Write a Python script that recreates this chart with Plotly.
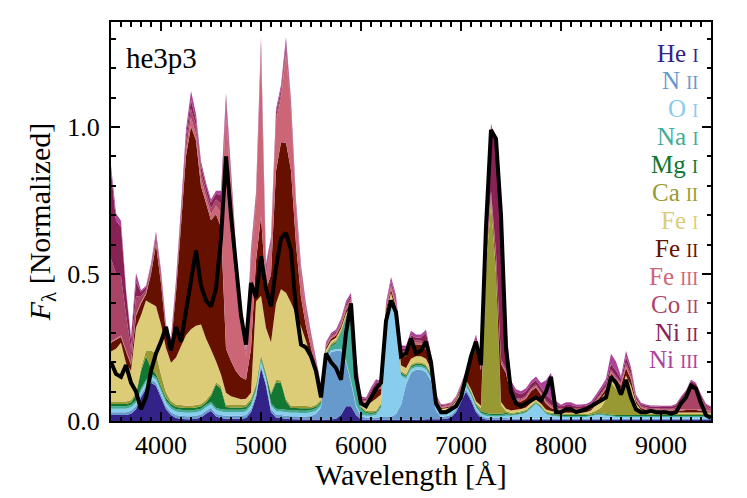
import plotly.graph_objects as go

# wavelength grid [Angstrom], 3500 .. 9500 every 50
wavelength = list(range(3500, 9501, 50))

# per-ion contributions to the model spectrum (stacked, bottom to top)
he1 = [0.02, 0.02, 0.02, 0.02, 0.025, 0.04, 0.08, 0.11, 0.13, 0.12,
       0.08, 0.04, 0.02, 0.01, 0.008, 0.006, 0.006, 0.008, 0.012, 0.025,
       0.035, 0.015, 0.01, 0.008, 0.008, 0.008, 0.008, 0.01, 0.03, 0.08,
       0.18, 0.12, 0.03, 0.012, 0.01, 0.008, 0.006, 0.006, 0.005, 0.005,
       0.005, 0.005, 0.005, 0.005, 0.005, 0.008, 0.02, 0.05, 0.05, 0.02,
       0.005, 0.004, 0.004, 0.004, 0.004, 0.004, 0.004, 0.004, 0.004, 0.004,
       0.004, 0.004, 0.004, 0.006, 0.006, 0.006, 0.006, 0.008, 0.012, 0.03,
       0.065, 0.10, 0.07, 0.03, 0.01, 0.005, 0.004, 0.004, 0.004, 0.004,
       0.003, 0.003, 0.003, 0.003, 0.003, 0.003, 0.003, 0.003, 0.003, 0.003,
       0.003, 0.003, 0.003, 0.003, 0.003, 0.003, 0.003, 0.003, 0.003, 0.003,
       0.003, 0.003, 0.003, 0.003, 0.003, 0.003, 0.003, 0.003, 0.003, 0.003,
       0.003, 0.003, 0.003, 0.003, 0.003, 0.003, 0.003, 0.003, 0.003, 0.003,
       0.003]
n2 = [0.01, 0.01, 0.01, 0.01, 0.01, 0.01, 0.01, 0.01, 0.01, 0.01,
      0.01, 0.01, 0.01, 0.01, 0.01, 0.01, 0.01, 0.01, 0.01, 0.01,
      0.01, 0.01, 0.01, 0.01, 0.01, 0.01, 0.01, 0.01, 0.01, 0.01,
      0.01, 0.01, 0.01, 0.01, 0.01, 0.01, 0.01, 0.01, 0.01, 0.01,
      0.012, 0.02, 0.04, 0.20, 0.23, 0.23, 0.22, 0.15, 0.08, 0.03,
      0.01, 0.008, 0.008, 0.008, 0.01, 0.01, 0.01, 0.02, 0.05, 0.12,
      0.16, 0.17, 0.17, 0.16, 0.13, 0.03, 0.008, 0.008, 0.008, 0.008,
      0.008, 0.008, 0.008, 0.008, 0.008, 0.006, 0.006, 0.006, 0.006, 0.006,
      0.005, 0.005, 0.005, 0.005, 0.005, 0.005, 0.005, 0.005, 0.005, 0.005,
      0.005, 0.005, 0.005, 0.005, 0.005, 0.005, 0.005, 0.005, 0.005, 0.005,
      0.005, 0.005, 0.005, 0.005, 0.005, 0.005, 0.005, 0.005, 0.005, 0.005,
      0.005, 0.005, 0.005, 0.005, 0.005, 0.005, 0.005, 0.005, 0.005, 0.005,
      0.005]
o1 = [0.012, 0.012, 0.012, 0.012, 0.012, 0.012, 0.012, 0.012, 0.012, 0.012,
      0.012, 0.012, 0.012, 0.012, 0.012, 0.012, 0.012, 0.012, 0.012, 0.012,
      0.012, 0.012, 0.012, 0.012, 0.012, 0.012, 0.012, 0.012, 0.012, 0.012,
      0.012, 0.012, 0.012, 0.012, 0.012, 0.012, 0.012, 0.012, 0.012, 0.012,
      0.012, 0.01, 0.008, 0.006, 0.006, 0.006, 0.006, 0.006, 0.006, 0.006,
      0.006, 0.006, 0.006, 0.008, 0.03, 0.33, 0.39, 0.32, 0.10, 0.02,
      0.012, 0.01, 0.01, 0.01, 0.01, 0.008, 0.008, 0.008, 0.008, 0.01,
      0.012, 0.012, 0.01, 0.008, 0.006, 0.006, 0.005, 0.005, 0.005, 0.008,
      0.01, 0.012, 0.015, 0.02, 0.035, 0.05, 0.035, 0.015, 0.01, 0.008,
      0.006, 0.006, 0.006, 0.006, 0.006, 0.006, 0.008, 0.012, 0.012, 0.01,
      0.008, 0.006, 0.006, 0.006, 0.006, 0.006, 0.006, 0.006, 0.006, 0.006,
      0.006, 0.006, 0.006, 0.006, 0.006, 0.006, 0.006, 0.006, 0.006, 0.006,
      0.006]
na1 = [0.008, 0.008, 0.008, 0.008, 0.008, 0.008, 0.008, 0.008, 0.008, 0.008,
       0.008, 0.008, 0.008, 0.008, 0.008, 0.008, 0.008, 0.008, 0.008, 0.008,
       0.008, 0.008, 0.008, 0.008, 0.008, 0.008, 0.008, 0.008, 0.008, 0.008,
       0.008, 0.008, 0.008, 0.008, 0.008, 0.008, 0.008, 0.008, 0.008, 0.008,
       0.008, 0.008, 0.008, 0.01, 0.012, 0.02, 0.05, 0.14, 0.24, 0.12,
       0.02, 0.008, 0.006, 0.006, 0.006, 0.006, 0.006, 0.006, 0.006, 0.006,
       0.006, 0.006, 0.006, 0.006, 0.006, 0.005, 0.005, 0.005, 0.005, 0.005,
       0.005, 0.005, 0.005, 0.005, 0.005, 0.005, 0.005, 0.005, 0.005, 0.005,
       0.003, 0.003, 0.003, 0.003, 0.003, 0.003, 0.003, 0.003, 0.003, 0.003,
       0.003, 0.003, 0.003, 0.003, 0.003, 0.003, 0.003, 0.003, 0.003, 0.003,
       0.003, 0.003, 0.003, 0.003, 0.003, 0.003, 0.003, 0.003, 0.003, 0.003,
       0.003, 0.003, 0.003, 0.003, 0.003, 0.003, 0.003, 0.003, 0.003, 0.003,
       0.003]
mg1 = [0.008, 0.008, 0.008, 0.008, 0.008, 0.02, 0.06, 0.08, 0.02, 0.01,
       0.008, 0.008, 0.008, 0.008, 0.008, 0.008, 0.008, 0.008, 0.008, 0.008,
       0.02, 0.08, 0.07, 0.01, 0.008, 0.008, 0.008, 0.008, 0.008, 0.008,
       0.008, 0.008, 0.03, 0.09, 0.09, 0.03, 0.008, 0.008, 0.008, 0.008,
       0.006, 0.006, 0.005, 0.005, 0.005, 0.005, 0.005, 0.006, 0.006, 0.005,
       0.005, 0.005, 0.005, 0.005, 0.005, 0.005, 0.005, 0.005, 0.005, 0.005,
       0.005, 0.005, 0.005, 0.005, 0.005, 0.005, 0.005, 0.005, 0.005, 0.005,
       0.005, 0.005, 0.005, 0.005, 0.005, 0.005, 0.005, 0.005, 0.005, 0.005,
       0.003, 0.003, 0.003, 0.003, 0.003, 0.003, 0.003, 0.003, 0.003, 0.003,
       0.003, 0.003, 0.003, 0.003, 0.003, 0.003, 0.003, 0.003, 0.003, 0.003,
       0.003, 0.003, 0.003, 0.003, 0.003, 0.003, 0.003, 0.003, 0.003, 0.003,
       0.003, 0.003, 0.003, 0.003, 0.003, 0.003, 0.003, 0.003, 0.003, 0.003,
       0.003]
ca2 = [0.008, 0.008, 0.008, 0.008, 0.008, 0.008, 0.01, 0.02, 0.06, 0.07,
       0.04, 0.02, 0.01, 0.008, 0.008, 0.008, 0.008, 0.008, 0.008, 0.008,
       0.008, 0.008, 0.008, 0.008, 0.008, 0.008, 0.008, 0.008, 0.008, 0.008,
       0.008, 0.008, 0.008, 0.008, 0.008, 0.008, 0.008, 0.008, 0.008, 0.008,
       0.006, 0.006, 0.006, 0.006, 0.006, 0.006, 0.006, 0.006, 0.006, 0.006,
       0.005, 0.005, 0.005, 0.005, 0.005, 0.005, 0.005, 0.005, 0.005, 0.005,
       0.005, 0.005, 0.005, 0.005, 0.005, 0.005, 0.005, 0.005, 0.005, 0.005,
       0.005, 0.005, 0.005, 0.005, 0.01, 0.50, 0.72, 0.48, 0.03, 0.006,
       0.004, 0.004, 0.004, 0.004, 0.004, 0.004, 0.004, 0.004, 0.004, 0.004,
       0.004, 0.004, 0.004, 0.004, 0.004, 0.004, 0.006, 0.01, 0.02, 0.05,
       0.11, 0.09, 0.07, 0.10, 0.08, 0.025, 0.008, 0.005, 0.004, 0.004,
       0.004, 0.004, 0.004, 0.004, 0.004, 0.004, 0.004, 0.004, 0.004, 0.004,
       0.004]
fe1 = [0.17, 0.18, 0.20, 0.13, 0.10, 0.22, 0.18, 0.17, 0.16, 0.16,
       0.17, 0.15, 0.13, 0.16, 0.20, 0.24, 0.26, 0.27, 0.27, 0.21,
       0.15, 0.07, 0.04, 0.04, 0.03, 0.025, 0.02, 0.02, 0.02, 0.28,
       0.20, 0.15, 0.17, 0.26, 0.31, 0.36, 0.35, 0.31, 0.27, 0.22,
       0.17, 0.10, 0.02, 0.01, 0.008, 0.008, 0.008, 0.008, 0.006, 0.006,
       0.008, 0.015, 0.03, 0.04, 0.03, 0.01, 0.015, 0.015, 0.02, 0.02,
       0.02, 0.02, 0.02, 0.02, 0.015, 0.008, 0.004, 0.004, 0.004, 0.004,
       0.004, 0.004, 0.005, 0.006, 0.008, 0.01, 0.01, 0.01, 0.01, 0.008,
       0.008, 0.008, 0.008, 0.008, 0.008, 0.006, 0.006, 0.006, 0.006, 0.004,
       0.004, 0.004, 0.004, 0.004, 0.004, 0.006, 0.008, 0.02, 0.03, 0.025,
       0.02, 0.02, 0.02, 0.035, 0.02, 0.015, 0.01, 0.008, 0.006, 0.006,
       0.005, 0.005, 0.005, 0.005, 0.005, 0.005, 0.005, 0.005, 0.005, 0.005,
       0.005]
fe2 = [0.03, 0.03, 0.02, 0.04, 0.02, 0.04, 0.04, 0.02, 0.10, 0.21,
       0.14, 0.05, 0.06, 0.22, 0.41, 0.61, 0.69, 0.63, 0.47, 0.46,
       0.44, 0.50, 0.50, 0.15, 0.12, 0.09, 0.075, 0.064, 0.15, 0.14,
       0.27, 0.13, 0.23, 0.45, 0.50, 0.51, 0.45, 0.24, 0.10, 0.05,
       0.03, 0.02, 0.01, 0.008, 0.008, 0.008, 0.008, 0.01, 0.01, 0.01,
       0.006, 0.01, 0.02, 0.03, 0.02, 0.01, 0.012, 0.015, 0.03, 0.04,
       0.05, 0.04, 0.04, 0.03, 0.02, 0.008, 0.004, 0.004, 0.004, 0.005,
       0.008, 0.015, 0.10, 0.18, 0.12, 0.03, 0.01, 0.04, 0.13, 0.12,
       0.05, 0.03, 0.025, 0.03, 0.04, 0.04, 0.03, 0.02, 0.01, 0.008,
       0.006, 0.008, 0.008, 0.006, 0.006, 0.006, 0.006, 0.008, 0.01, 0.01,
       0.01, 0.01, 0.01, 0.025, 0.02, 0.008, 0.006, 0.005, 0.005, 0.005,
       0.005, 0.005, 0.005, 0.005, 0.006, 0.008, 0.008, 0.008, 0.006, 0.004,
       0.003]
fe3 = [0.005, 0.005, 0.005, 0.005, 0.005, 0.005, 0.005, 0.005, 0.005, 0.005,
       0.005, 0.005, 0.005, 0.005, 0.01, 0.02, 0.03, 0.02, 0.03, 0.02,
       0.02, 0.03, 0.05, 0.80, 0.60, 0.38, 0.17, 0.08, 0.30, 0.19,
       0.55, 0.05, 0.10, 0.17, 0.15, 0.30, 0.20, 0.12, 0.08, 0.05,
       0.03, 0.02, 0.01, 0.005, 0.005, 0.005, 0.006, 0.008, 0.008, 0.006,
       0.004, 0.005, 0.006, 0.008, 0.006, 0.006, 0.01, 0.01, 0.01, 0.008,
       0.008, 0.006, 0.006, 0.008, 0.006, 0.004, 0.003, 0.003, 0.003, 0.003,
       0.003, 0.004, 0.005, 0.006, 0.006, 0.006, 0.006, 0.006, 0.006, 0.006,
       0.005, 0.005, 0.005, 0.005, 0.005, 0.005, 0.005, 0.005, 0.005, 0.005,
       0.004, 0.004, 0.004, 0.004, 0.004, 0.004, 0.004, 0.004, 0.004, 0.004,
       0.006, 0.006, 0.006, 0.008, 0.008, 0.004, 0.004, 0.004, 0.004, 0.004,
       0.004, 0.004, 0.004, 0.004, 0.004, 0.004, 0.004, 0.004, 0.004, 0.004,
       0.004]
co2 = [0.28, 0.22, 0.20, 0.12, 0.05, 0.06, 0.02, 0.01, 0.01, 0.02,
       0.02, 0.01, 0.01, 0.02, 0.02, 0.03, 0.03, 0.03, 0.02, 0.02,
       0.02, 0.02, 0.03, 0.03, 0.02, 0.02, 0.01, 0.01, 0.015, 0.015,
       0.02, 0.015, 0.01, 0.015, 0.015, 0.02, 0.015, 0.01, 0.01, 0.01,
       0.008, 0.006, 0.004, 0.004, 0.004, 0.004, 0.005, 0.006, 0.006, 0.004,
       0.004, 0.004, 0.006, 0.008, 0.006, 0.005, 0.008, 0.008, 0.008, 0.008,
       0.01, 0.008, 0.008, 0.01, 0.008, 0.004, 0.003, 0.003, 0.003, 0.003,
       0.003, 0.004, 0.005, 0.006, 0.006, 0.01, 0.01, 0.01, 0.01, 0.008,
       0.006, 0.005, 0.005, 0.005, 0.005, 0.005, 0.005, 0.005, 0.005, 0.004,
       0.004, 0.004, 0.004, 0.004, 0.004, 0.004, 0.004, 0.004, 0.004, 0.004,
       0.006, 0.006, 0.006, 0.01, 0.01, 0.004, 0.004, 0.004, 0.004, 0.004,
       0.004, 0.004, 0.004, 0.008, 0.03, 0.05, 0.085, 0.075, 0.04, 0.012,
       0.006]
ni2 = [0.30, 0.18, 0.17, 0.08, 0.03, 0.05, 0.015, 0.01, 0.01, 0.01,
       0.01, 0.01, 0.005, 0.01, 0.02, 0.02, 0.03, 0.02, 0.02, 0.02,
       0.02, 0.02, 0.03, 0.02, 0.02, 0.01, 0.01, 0.01, 0.015, 0.015,
       0.02, 0.015, 0.01, 0.015, 0.015, 0.02, 0.015, 0.01, 0.01, 0.01,
       0.008, 0.006, 0.004, 0.005, 0.005, 0.005, 0.006, 0.008, 0.008, 0.005,
       0.005, 0.005, 0.008, 0.01, 0.008, 0.006, 0.01, 0.01, 0.01, 0.01,
       0.012, 0.01, 0.01, 0.04, 0.01, 0.004, 0.003, 0.003, 0.003, 0.003,
       0.004, 0.006, 0.01, 0.015, 0.02, 0.12, 0.22, 0.37, 0.53, 0.15,
       0.03, 0.02, 0.015, 0.015, 0.015, 0.015, 0.015, 0.02, 0.02, 0.01,
       0.008, 0.01, 0.01, 0.008, 0.008, 0.008, 0.008, 0.01, 0.012, 0.012,
       0.02, 0.02, 0.01, 0.02, 0.015, 0.008, 0.006, 0.006, 0.006, 0.006,
       0.006, 0.006, 0.006, 0.008, 0.01, 0.01, 0.01, 0.01, 0.008, 0.006,
       0.004]
ni3 = [0.02, 0.025, 0.02, 0.01, 0.01, 0.03, 0.005, 0.005, 0.01, 0.01,
       0.01, 0.005, 0.005, 0.01, 0.015, 0.02, 0.03, 0.02, 0.015, 0.01,
       0.01, 0.01, 0.015, 0.02, 0.01, 0.01, 0.008, 0.008, 0.01, 0.01,
       0.02, 0.01, 0.008, 0.01, 0.015, 0.02, 0.01, 0.01, 0.008, 0.008,
       0.006, 0.005, 0.004, 0.005, 0.005, 0.006, 0.008, 0.01, 0.01, 0.005,
       0.005, 0.005, 0.01, 0.01, 0.006, 0.006, 0.015, 0.01, 0.01, 0.01,
       0.015, 0.01, 0.01, 0.01, 0.008, 0.004, 0.003, 0.003, 0.003, 0.003,
       0.004, 0.005, 0.01, 0.02, 0.01, 0.01, 0.01, 0.01, 0.01, 0.01,
       0.01, 0.01, 0.01, 0.01, 0.01, 0.012, 0.015, 0.05, 0.09, 0.01,
       0.005, 0.01, 0.01, 0.006, 0.006, 0.006, 0.008, 0.008, 0.01, 0.015,
       0.035, 0.03, 0.01, 0.02, 0.01, 0.006, 0.004, 0.004, 0.004, 0.004,
       0.004, 0.004, 0.004, 0.004, 0.004, 0.004, 0.004, 0.004, 0.004, 0.004,
       0.003]

# observed spectrum (black line)
observed = [0.20, 0.16, 0.15, 0.19, 0.13, 0.10, 0.04, 0.08, 0.17, 0.23,
            0.27, 0.32, 0.24, 0.32, 0.27, 0.38, 0.47, 0.58, 0.46, 0.41,
            0.39, 0.45, 0.62, 0.90, 0.70, 0.52, 0.36, 0.26, 0.47, 0.42,
            0.56, 0.45, 0.39, 0.52, 0.62, 0.64, 0.58, 0.38, 0.26, 0.25,
            0.22, 0.17, 0.08, 0.23, 0.20, 0.18, 0.14, 0.30, 0.40, 0.15,
            0.06, 0.05, 0.08, 0.11, 0.13, 0.34, 0.41, 0.37, 0.22, 0.23,
            0.28, 0.23, 0.24, 0.27, 0.20, 0.06, 0.03, 0.03, 0.04, 0.05,
            0.08, 0.15, 0.22, 0.27, 0.19, 0.66, 0.99, 0.96, 0.70, 0.25,
            0.10, 0.06, 0.05, 0.06, 0.07, 0.08, 0.07, 0.10, 0.15, 0.03,
            0.03, 0.04, 0.04, 0.03, 0.035, 0.04, 0.05, 0.06, 0.07, 0.08,
            0.15, 0.13, 0.09, 0.14, 0.08, 0.04, 0.03, 0.03, 0.035, 0.03,
            0.03, 0.03, 0.025, 0.03, 0.06, 0.08, 0.12, 0.11, 0.06, 0.02,
            0.01]

ion_names = ["He", "N", "O", "Na", "Mg", "Ca", "Fe", "Fe", "Fe", "Co", "Ni", "Ni"]
ion_stages = ["I", "II", "I", "I", "I", "II", "I", "II", "III", "II", "II", "III"]
ion_colors = ["#332288", "#6699CC", "#88CCEE", "#44AA99", "#117733", "#999933",
              "#DDCC77", "#661100", "#CC6677", "#AA4466", "#882255", "#AA4499"]
ion_flux = [he1, n2, o1, na1, mg1, ca2, fe1, fe2, fe3, co2, ni2, ni3]

FONT = "Liberation Serif"

fig = go.Figure()
for name, stage, color, flux in zip(ion_names, ion_stages, ion_colors, ion_flux):
    fig.add_trace(go.Scatter(
        x=wavelength, y=flux, name=name + " " + stage,
        stackgroup="ions", mode="none", fillcolor=color,
        hoverinfo="skip"
    ))

fig.add_trace(go.Scatter(
    x=wavelength, y=observed, mode="lines",
    line=dict(color="black", width=4), name="he3p3"
))

# ion labels down the right side
for k, (name, stage, color) in enumerate(zip(ion_names, ion_stages, ion_colors)):
    py = 53 + 27.9 * k
    fig.add_annotation(
        xref="paper", yref="paper", x=0.982, y=(421 - py) / 399,
        xanchor="right", yanchor="middle", showarrow=False,
        text=name + " <span style='font-size:18px'>" + stage + "</span>",
        font=dict(family=FONT, size=25, color=color)
    )

fig.add_annotation(
    xref="paper", yref="paper", x=0.022, y=(421 - 58) / 399,
    xanchor="left", yanchor="middle", showarrow=False,
    text="he3p3", font=dict(family=FONT, size=29, color="black")
)

# x-axis title placed by hand, just below the tick labels
fig.add_annotation(
    xref="paper", yref="paper", x=0.5, y=(421 - 474) / 399,
    xanchor="center", yanchor="middle", showarrow=False,
    text="Wavelength [Å]", font=dict(family=FONT, size=30, color="black")
)

axis_common = dict(
    showline=True, linecolor="black", linewidth=2, mirror="allticks",
    ticks="inside", ticklen=9, tickwidth=2, tickcolor="black",
    showgrid=False, zeroline=False,
    tickfont=dict(family=FONT, size=26, color="black"),
)

fig.update_xaxes(
    range=[3500, 9500], dtick=1000, tick0=0,
    minor=dict(ticks="inside", ticklen=4.5, tickwidth=1.5, tickcolor="black", dtick=100),
    **axis_common
)
fig.update_yaxes(
    range=[0, 1.357], dtick=0.5, tick0=0, tickformat=".1f",
    minor=dict(ticks="inside", ticklen=4.5, tickwidth=1.5, tickcolor="black", dtick=0.1),
    title=dict(text="<i>F</i><sub>λ</sub> [Normalized]", font=dict(family=FONT, size=30, color="black"), standoff=8),
    ticklabelstandoff=4,
    **axis_common
)

# the page body adds an 8px offset, so the figure is 8px smaller than the window
fig.update_layout(
    width=739, height=490,
    margin=dict(l=103, r=36, t=14, b=77),
    plot_bgcolor="white", paper_bgcolor="white",
    showlegend=False,
    font=dict(family=FONT, color="black"),
)

fig.write_html("out.html")
